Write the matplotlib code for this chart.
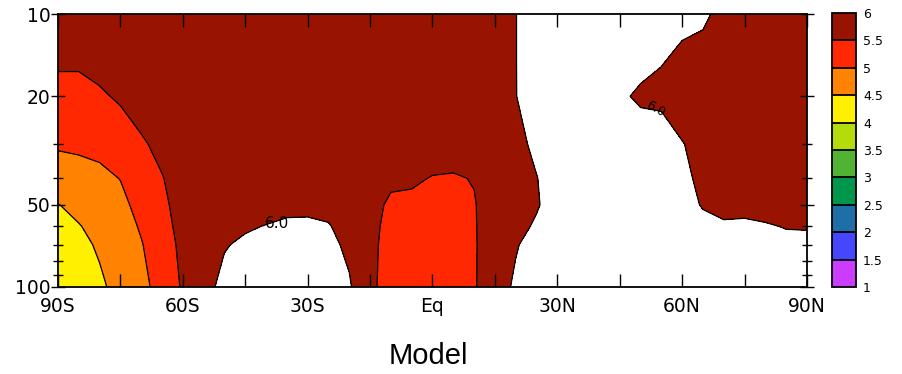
import numpy as np
import matplotlib
matplotlib.use("Agg")
import matplotlib.pyplot as plt
from matplotlib.ticker import FixedLocator, FixedFormatter, NullFormatter

# latitude (deg, S negative) and pressure levels (hPa)
lats = [-90, -85, -80, -75, -70, -65, -60, -55, -50, -45, -40, -35, -30,
        -25, -20, -15, -10, -5, 0, 5, 10, 15, 20, 25, 30, 35, 40, 45,
        50, 55, 60, 65, 70, 75, 80, 85, 90]
plevs = [100, 70, 60, 50, 40, 30, 20, 15, 10]

# model field, one row per latitude, values at plevs
field = [
    [4.10, 4.30, 4.40, 4.49, 4.75, 5.05, 5.35, 5.55, 5.85],   # 90S
    [4.20, 4.40, 4.48, 4.60, 4.80, 5.08, 5.38, 5.54, 5.85],
    [4.42, 4.55, 4.62, 4.72, 4.90, 5.10, 5.45, 5.60, 5.88],
    [4.65, 4.72, 4.78, 4.88, 5.01, 5.25, 5.55, 5.70, 5.90],
    [4.85, 4.97, 5.05, 5.15, 5.30, 5.45, 5.65, 5.75, 5.90],
    [5.20, 5.30, 5.36, 5.42, 5.48, 5.60, 5.75, 5.80, 5.90],
    [5.55, 5.60, 5.63, 5.65, 5.70, 5.75, 5.80, 5.85, 5.90],   # 60S
    [5.88, 5.80, 5.76, 5.74, 5.75, 5.78, 5.82, 5.86, 5.90],
    [6.10, 5.98, 5.88, 5.80, 5.78, 5.80, 5.83, 5.86, 5.90],
    [6.25, 6.05, 5.97, 5.85, 5.80, 5.80, 5.83, 5.86, 5.90],
    [6.30, 6.12, 6.01, 5.90, 5.82, 5.80, 5.83, 5.86, 5.90],
    [6.32, 6.15, 6.06, 5.92, 5.84, 5.80, 5.83, 5.86, 5.90],
    [6.32, 6.15, 6.06, 5.93, 5.84, 5.80, 5.83, 5.86, 5.90],   # 30S
    [6.25, 6.10, 6.02, 5.92, 5.84, 5.80, 5.83, 5.86, 5.90],
    [6.05, 5.92, 5.88, 5.84, 5.80, 5.80, 5.83, 5.86, 5.90],
    [5.60, 5.62, 5.64, 5.66, 5.70, 5.74, 5.80, 5.85, 5.90],
    [5.30, 5.32, 5.35, 5.42, 5.58, 5.70, 5.80, 5.85, 5.90],
    [5.25, 5.28, 5.32, 5.40, 5.56, 5.70, 5.80, 5.85, 5.90],
    [5.20, 5.25, 5.30, 5.36, 5.48, 5.68, 5.80, 5.85, 5.90],   # Eq
    [5.20, 5.25, 5.30, 5.35, 5.46, 5.68, 5.80, 5.85, 5.90],
    [5.45, 5.45, 5.46, 5.47, 5.52, 5.70, 5.80, 5.85, 5.90],
    [5.85, 5.80, 5.78, 5.76, 5.76, 5.78, 5.82, 5.86, 5.90],
    [6.05, 5.98, 5.93, 5.90, 5.90, 5.92, 5.99, 5.99, 5.99],
    [6.30, 6.10, 6.03, 5.98, 5.99, 6.06, 6.20, 6.25, 6.25],
    [6.35, 6.20, 6.15, 6.10, 6.15, 6.20, 6.25, 6.30, 6.30],   # 30N
    [6.40, 6.30, 6.25, 6.20, 6.22, 6.25, 6.30, 6.30, 6.30],
    [6.40, 6.35, 6.30, 6.28, 6.28, 6.28, 6.25, 6.30, 6.35],
    [6.40, 6.35, 6.32, 6.30, 6.30, 6.25, 6.10, 6.25, 6.35],
    [6.40, 6.35, 6.32, 6.30, 6.35, 6.40, 5.90, 6.15, 6.30],
    [6.35, 6.30, 6.28, 6.25, 6.30, 6.40, 5.85, 6.02, 6.20],
    [6.30, 6.25, 6.20, 6.10, 6.10, 6.02, 5.80, 5.90, 6.10],   # 60N
    [6.25, 6.15, 6.08, 5.98, 5.90, 5.85, 5.80, 5.85, 6.06],
    [6.20, 6.10, 6.02, 5.96, 5.88, 5.85, 5.83, 5.86, 5.90],
    [6.20, 6.08, 6.02, 5.97, 5.90, 5.86, 5.84, 5.86, 5.90],
    [6.15, 6.05, 6.01, 5.96, 5.90, 5.86, 5.84, 5.86, 5.90],
    [6.12, 6.03, 5.995, 5.96, 5.90, 5.86, 5.84, 5.86, 5.90],
    [6.10, 6.04, 5.99, 5.95, 5.90, 5.86, 5.84, 5.86, 5.90],   # 90N
]

clevs = [1, 1.5, 2, 2.5, 3, 3.5, 4, 4.5, 5, 5.5, 6]
clev_labels = ["1", "1.5", "2", "2.5", "3", "3.5", "4", "4.5", "5", "5.5", "6"]
shade_colors = ["#cc3cff", "#4646ff", "#1e6ea8", "#00964b", "#50b432",
                "#b4dc0a", "#fff000", "#ff8200", "#ff2800", "#991400"]

xtick_vals = [-90, -75, -60, -45, -30, -15, 0, 15, 30, 45, 60, 75, 90]
xtick_text = ["90S", "", "60S", "", "30S", "", "Eq", "", "30N", "", "60N", "", "90N"]
ytick_major = [10, 20, 50, 100]
ytick_minor = [30, 40, 60, 70, 80, 90]

W, H = 903, 374
fig = plt.figure(figsize=(W / 100, H / 100), dpi=100)
ax = fig.add_axes([58 / W, 1 - 287 / H, (807 - 58) / W, (287 - 14) / H])
cax = fig.add_axes([832 / W, 1 - 287 / H, 24 / W, 274 / H])

z = np.array(field).T
cf = ax.contourf(lats, plevs, z, levels=clevs, colors=shade_colors)
ax.contour(lats, plevs, z, levels=clevs, colors="k", linewidths=0.9)

# contour labels for the 6.0 line
ax.text(-37.3, 58.5, "6.0", fontsize=11, ha="center", va="center")
ax.text(53.5, 22.3, "6.0", fontsize=9, ha="center", va="center", rotation=-30)

ax.set_yscale("log")
ax.set_ylim(100, 10)
ax.set_xlim(-90, 90)
ax.yaxis.set_major_locator(FixedLocator(ytick_major))
ax.yaxis.set_minor_locator(FixedLocator(ytick_minor))
ax.yaxis.set_major_formatter(FixedFormatter([str(v) for v in ytick_major]))
ax.yaxis.set_minor_formatter(NullFormatter())
ax.set_xticks(xtick_vals)
ax.set_xticklabels(xtick_text)

ax.tick_params(axis="x", which="both", direction="in", length=9.5, width=1,
               top=True, bottom=True, labelsize=13.5, pad=7)
ax.tick_params(axis="y", which="major", direction="inout", length=10, width=1,
               left=True, right=True, labelsize=13.5, pad=0.5)
ax.tick_params(axis="y", which="minor", direction="inout", length=7, width=1,
               left=True, right=True)
for s in ax.spines.values():
    s.set_linewidth(1.3)

cb = fig.colorbar(cf, cax=cax, ticks=clevs, drawedges=True)
cb.ax.set_yticklabels(clev_labels)
cb.ax.tick_params(length=0, labelsize=9, pad=5)
cb.outline.set_linewidth(1.3)
cb.dividers.set_linewidth(1.3)

fig.text(428 / W, 1 - 356 / H, "Model", ha="center", va="center",
         fontsize=21, family="Liberation Sans")

fig.savefig("out.png", dpi=100)
